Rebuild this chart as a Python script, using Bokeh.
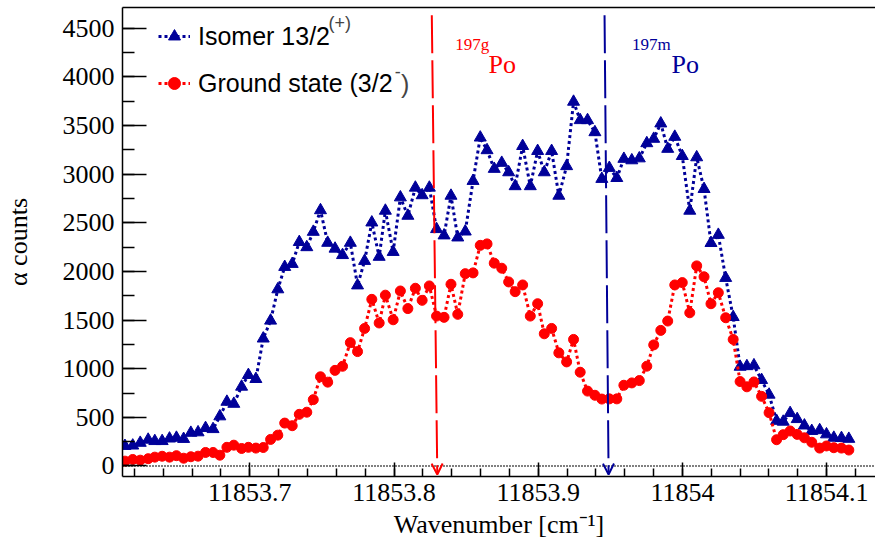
from bokeh.plotting import figure
from bokeh.models import (Range1d, FixedTicker, Legend, LegendItem, Label, Span,
                          Arrow, OpenHead, LinearAxis)
from bokeh.embed import file_html
from bokeh.resources import INLINE

# ---------------- data ----------------
WAVENUMBER = [
    11853.6134, 11853.6188, 11853.6240, 11853.6295, 11853.6341, 11853.6392, 11853.6443,
    11853.6491, 11853.6541, 11853.6591, 11853.6641, 11853.6693, 11853.6745, 11853.6792,
    11853.6841, 11853.6889, 11853.6943, 11853.6990, 11853.7042, 11853.7093, 11853.7144,
    11853.7194, 11853.7242, 11853.7294, 11853.7343, 11853.7395, 11853.7440, 11853.7490,
    11853.7540, 11853.7591, 11853.7643, 11853.7697, 11853.7747, 11853.7796, 11853.7846,
    11853.7897, 11853.7940, 11853.7994, 11853.8044, 11853.8096, 11853.8148, 11853.8195,
    11853.8245, 11853.8295, 11853.8347, 11853.8395, 11853.8442, 11853.8494, 11853.8548,
    11853.8598, 11853.8645, 11853.8695, 11853.8747, 11853.8795, 11853.8840, 11853.8892,
    11853.8945, 11853.8996, 11853.9042, 11853.9093, 11853.9143, 11853.9197, 11853.9245,
    11853.9291, 11853.9342, 11853.9393, 11853.9441, 11853.9493, 11853.9545, 11853.9594,
    11853.9649, 11853.9701, 11853.9753, 11853.9801, 11853.9850, 11853.9898, 11853.9947,
    11853.9999, 11854.0051, 11854.0099, 11854.0150, 11854.0198, 11854.0249, 11854.0300,
    11854.0352, 11854.0400, 11854.0447, 11854.0496, 11854.0549, 11854.0601, 11854.0653,
    11854.0699, 11854.0747, 11854.0796, 11854.0846, 11854.0897, 11854.0952, 11854.0999,
    11854.1050, 11854.1103, 11854.1154,
]
ISOMER = [
    206, 210, 238, 270, 256, 256, 282, 290, 278, 341, 346, 390, 379, 510,
    660, 639, 815, 935, 894, 1310, 1494, 1816, 2046, 2077, 2302, 2249, 2407, 2629,
    2294, 2234, 2168, 2294, 1856, 2108, 2503, 2150, 2624, 2200, 2761, 2572, 2861, 2783,
    2861, 2435, 2370, 2778, 2349, 2410, 2930, 3376, 3246, 3054, 3116, 3019, 2876, 3289,
    2876, 3238, 3019, 3238, 2778, 3082, 3744, 3555, 3555, 3431, 2951, 3064, 2960, 3157,
    3142, 3162, 3318, 3363, 3521, 3260, 3384, 3186, 2624, 3173, 2847, 2292, 2376, 1933,
    1531, 1020, 1026, 1035, 884, 733, 464, 455, 544, 482, 416, 360, 368, 325,
    290, 287, 279,
]
GROUND = [
    50, 67, 60, 75, 91, 100, 91, 106, 80, 95, 101, 139, 139, 111,
    192, 214, 180, 192, 184, 190, 273, 317, 441, 414, 531, 553, 682, 917,
    862, 983, 1025, 1268, 1176, 1414, 1713, 1470, 1756, 1503, 1799, 1618, 1827, 1703,
    1851, 1541, 1528, 1868, 1559, 1977, 1985, 2268, 2283, 2085, 2033, 1892, 1792, 1861,
    1541, 1668, 1359, 1414, 1163, 1070, 1301, 964, 770, 727, 688, 690, 690, 830,
    854, 878, 1026, 1245, 1394, 1490, 1861, 1885, 1575, 2057, 1945, 1668, 1781, 1524,
    1301, 868, 814, 864, 716, 548, 270, 322, 360, 325, 290, 244, 184, 206,
    188, 184, 164,
]

# transition markers (wavenumber at top and at the arrow tip)
PO197G_LINE = (11853.8262, 11853.8300)
PO197M_LINE = (11853.9460, 11853.9488)

XTICKS = [11853.7, 11853.8, 11853.9, 11854.0, 11854.1]
XTICK_LABELS = ["11853.7", "11853.8", "11853.9", "11854", "11854.1"]
XMINOR = [round(11853.62 + 0.02 * i, 2) for i in range(26)]
YTICKS = [0, 500, 1000, 1500, 2000, 2500, 3000, 3500, 4000, 4500]
YMINOR = [250 * i for i in range(19)]

BLUE = "#000099"
RED = "#ff0000"
SERIF = "Liberation Serif"
SANS = "Liberation Sans"

p = figure(width=875, height=545, output_backend="svg", toolbar_location=None,
           x_range=Range1d(11853.6117, 11854.1339), y_range=Range1d(-108, 4713),
           min_border_left=121, min_border_right=0, min_border_top=7,
           min_border_bottom=69, x_axis_label="Wavenumber [cm\u207b\u00b9]",
           y_axis_label="\u03b1 counts")
p.outline_line_color = None
p.grid.visible = False
p.background_fill_color = "white"
p.border_fill_color = "white"

# zero reference line
p.add_layout(Span(location=0, dimension="width", line_color="black",
                  line_width=2, line_dash="1 2"))

# series
bl = p.line(WAVENUMBER, ISOMER, line_color=BLUE, line_width=3, line_dash="3 3")
bs = p.scatter(WAVENUMBER, ISOMER, marker="triangle", size=12,
               fill_color=BLUE, line_color=BLUE)
rl = p.line(WAVENUMBER, GROUND, line_color=RED, line_width=3, line_dash="3 3")
rs = p.scatter(WAVENUMBER, GROUND, marker="circle", size=10,
               fill_color=RED, line_color=RED)

# vertical dashed arrows
for (xs, xe), col in ((PO197G_LINE, RED), (PO197M_LINE, BLUE)):
    p.add_layout(Arrow(end=OpenHead(size=11, line_color=col, line_width=2),
                       x_start=xs, y_start=4634, x_end=xe, y_end=-88,
                       line_color=col, line_width=2, line_dash="38 7"))

# isotope labels
for x0, x1, sup, col in ((11853.8425, 11853.8655, "197g", RED),
                         (11853.9650, 11853.9925, "197m", BLUE)):
    p.add_layout(Label(x=x0, y=4330, text=sup, text_color=col, text_font=SERIF,
                       text_font_size="17px", text_baseline="alphabetic"))
    p.add_layout(Label(x=x1, y=4130, text="Po", text_color=col, text_font=SERIF,
                       text_font_size="26px", text_baseline="alphabetic"))

# axes
for ax in (p.xaxis[0], p.yaxis[0]):
    ax.axis_line_color = "black"
    ax.axis_line_width = 1.5
    ax.major_tick_line_color = "black"
    ax.minor_tick_line_color = "black"
    ax.major_tick_line_width = 1.5
    ax.minor_tick_line_width = 1.5
    ax.major_tick_out = 0
    ax.minor_tick_out = 0
    ax.major_label_text_font = SERIF
    ax.major_label_text_font_size = "26px"
    ax.major_label_text_color = "black"
    ax.axis_label_text_font = SERIF
    ax.axis_label_text_font_size = "26px"
    ax.axis_label_text_font_style = "normal"
    ax.axis_label_text_color = "black"

p.xaxis[0].ticker = FixedTicker(ticks=XTICKS, minor_ticks=XMINOR)
p.xaxis[0].major_label_overrides = dict(zip(XTICKS, XTICK_LABELS))
p.xaxis[0].major_tick_in = 14
p.xaxis[0].minor_tick_in = 8
p.xaxis[0].major_label_standoff = 7
p.xaxis[0].axis_label_standoff = 6

p.yaxis[0].ticker = FixedTicker(ticks=YTICKS, minor_ticks=YMINOR)
p.yaxis[0].major_tick_in = 24
p.yaxis[0].minor_tick_in = 12
p.yaxis[0].major_label_standoff = 8
p.yaxis[0].axis_label_standoff = 27

top = LinearAxis(major_tick_in=0, major_tick_out=0, minor_tick_in=0, minor_tick_out=0,
                 major_label_text_font_size="0px", major_label_standoff=0,
                 axis_line_color="black", axis_line_width=1.5,
                 ticker=FixedTicker(ticks=[]))
p.add_layout(top, "above")

# legend
legend = Legend(items=[LegendItem(label="Isomer 13/2", renderers=[bl, bs]),
                       LegendItem(label="Ground state (3/2", renderers=[rl, rs])],
                location=(36, 378), orientation="vertical", padding=0, margin=0,
                spacing=17, glyph_width=32, glyph_height=30, label_height=30,
                label_standoff=8, label_text_font=SANS, label_text_font_size="25px",
                label_text_color="black", border_line_color=None,
                background_fill_alpha=0)
p.add_layout(legend)
p.add_layout(Label(x=11853.7545, y=4550, text="(+)", text_font=SANS,
                   text_font_size="18px", text_baseline="middle"))
p.add_layout(Label(x=11853.8005, y=4060, text="-", text_font=SANS,
                   text_font_size="18px", text_baseline="middle"))
p.add_layout(Label(x=11853.8048, y=3925, text=")", text_font=SANS,
                   text_font_size="25px", text_baseline="middle"))

open("out.html", "w").write(file_html(p, INLINE))
